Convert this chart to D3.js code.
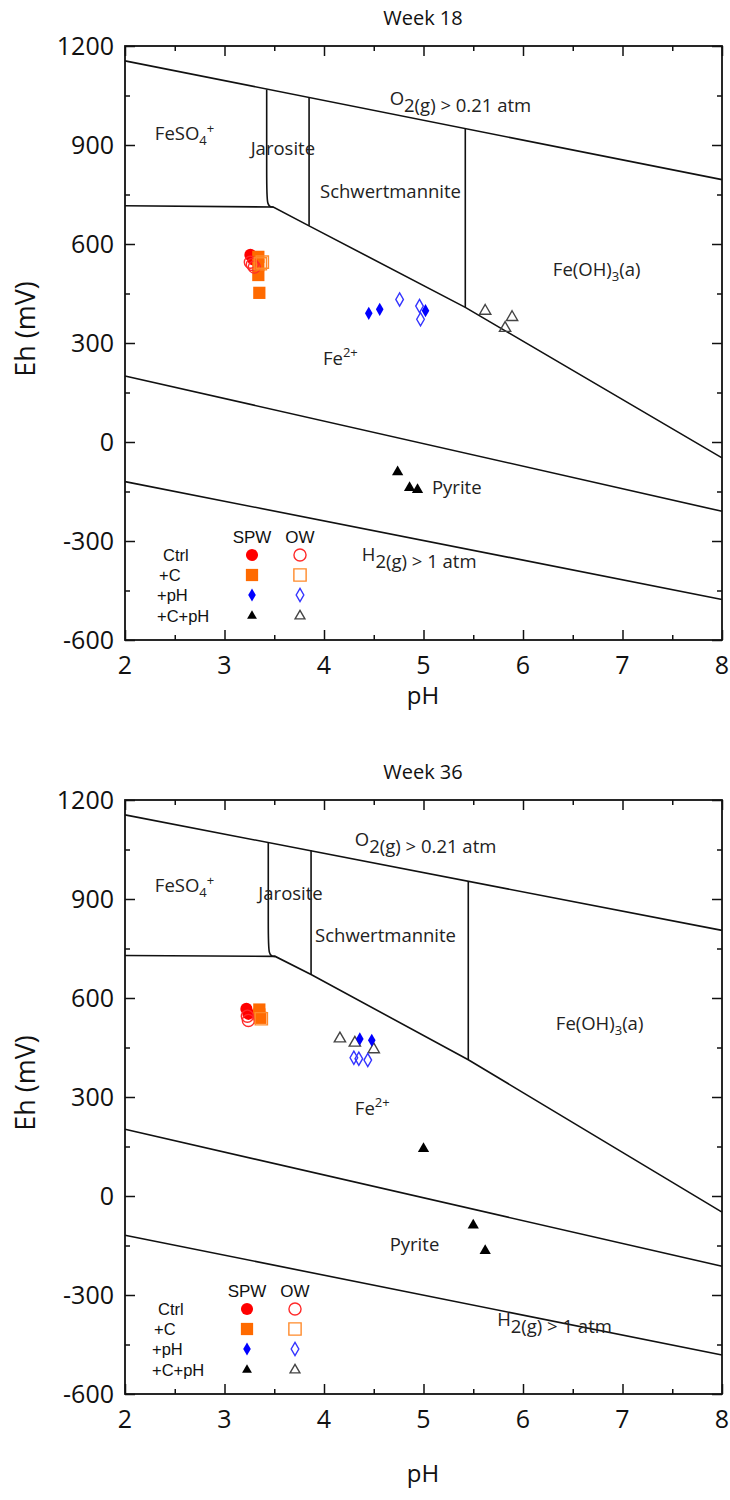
<!DOCTYPE html>
<html><head><meta charset="utf-8">
<script src="https://cdn.jsdelivr.net/npm/d3@7"></script>
<style>body{margin:0;background:#fff} svg{display:block}</style>
</head><body>
<script>
// ---------- axis ticks ----------
const phTicks = [2, 3, 4, 5, 6, 7, 8];
const ehTicks = [-600, -300, 0, 300, 600, 900, 1200];
const legendRows = ["Ctrl", "+C", "+pH", "+C+pH"];
const legendCols = ["SPW", "OW"];
const chartTitles = ["Week 18", "Week 36"];

// ---------- Week 18 data [pH, Eh mV] ----------
const w18_spw_ctrl = [[3.26, 567], [3.29, 553]];
const w18_ow_ctrl  = [[3.26, 545], [3.28, 538], [3.30, 530]];
const w18_spw_c    = [[3.34, 561], [3.34, 536], [3.34, 506], [3.35, 452]];
const w18_ow_c     = [[3.38, 545], [3.36, 540]];
const w18_spw_ph   = [[4.45, 390], [4.56, 402], [5.02, 398]];
const w18_ow_ph    = [[4.76, 432], [4.96, 412], [4.97, 372]];
const w18_spw_cph  = [[4.74, -91], [4.86, -139], [4.94, -145]];
const w18_ow_cph   = [[5.62, 397], [5.89, 378], [5.82, 345]];

// ---------- Week 36 data ----------
const w36_spw_ctrl = [[3.22, 567], [3.24, 552]];
const w36_ow_ctrl  = [[3.23, 545], [3.24, 532]];
const w36_spw_c    = [[3.35, 565], [3.35, 550], [3.36, 540]];
const w36_ow_c     = [[3.37, 537]];
const w36_spw_ph   = [[4.36, 476], [4.48, 472]];
const w36_ow_ph    = [[4.30, 419], [4.35, 416], [4.44, 412]];
const w36_spw_cph  = [[5.00, 143], [5.50, -89], [5.62, -166]];
const w36_ow_cph   = [[4.16, 477], [4.31, 464], [4.50, 444]];

// ---------- stability boundaries, Week 18 ----------
const w18_o2     = [[2, 1155], [8, 795]];
const w18_h2     = [[2, -120], [8, -477]];
const w18_pyrite = [[2, 200], [8, -210]];
const w18_fe2    = [[2, 716], [3.49, 712], [3.85, 655], [5.42, 408], [8, -48]];
const w18_jaro   = [[3.424, 1068], [3.424, 790], [3.424, 712], [3.49, 712]];
const w18_schw   = [[3.85, 1043], [3.85, 655]];
const w18_feoh   = [[5.42, 950], [5.42, 408]];

// ---------- stability boundaries, Week 36 ----------
const w36_o2     = [[2, 1155], [8, 805]];
const w36_h2     = [[2, -119], [8, -482]];
const w36_pyrite = [[2, 202], [8, -213]];
const w36_fe2    = [[2, 729], [3.51, 726], [3.87, 671], [5.45, 413], [8, -49]];
const w36_jaro   = [[3.44, 1071], [3.44, 800], [3.44, 726], [3.51, 726]];
const w36_schw   = [[3.87, 1047], [3.87, 671]];
const w36_feoh   = [[5.45, 954], [5.45, 413]];

// ---------- region label anchors [pH, Eh] ----------
const w18_labelPos = {o2:[4.66,1000], feso4:[2.30,915], jaro:[3.263,870], schw:[3.96,739],
  feoh:[6.30,503], fe2:[3.99,233], pyrite:[5.085,-158], h2:[4.38,-382]};
const w36_labelPos = {o2:[4.31,1040], feso4:[2.30,922], jaro:[3.34,897], schw:[3.91,771],
  feoh:[6.33,504], fe2:[4.31,244], pyrite:[4.66,-167], h2:[5.74,-415]};

// ---------- styles ----------
const treatStyle = {
  "Ctrl":  {shape: d3.symbolCircle,  size: 115, fill: "#ff0000", open: "#ff2a2a"},
  "+C":    {shape: d3.symbolSquare,  size: 150, fill: "#ff6a00", open: "#ff8a2a"},
  "+pH":   {shape: d3.symbolDiamond, size: 50,  fill: "#0000ff", open: "#3535ff"},
  "+C+pH": {shape: d3.symbolTriangle,size: 55,  fill: "#000000", open: "#444444"}
};

const W = 730, H = 1500;
const svg = d3.select("body").append("svg").attr("width", W).attr("height", H)
  .style("font-family", "'Open Sans', sans-serif");

function drawChart(cfg) {
  const left = 125, right = 722, top = cfg.top, bottom = cfg.top + 594;
  const x = d3.scaleLinear().domain([2, 8]).range([left, right]);
  const y = d3.scaleLinear().domain([-600, 1200]).range([bottom, top]);
  const g = svg.append("g");

  // title
  g.append("text").attr("x", 423).attr("y", top - 21).attr("text-anchor", "middle")
    .attr("font-size", 20).attr("fill", "#111").text(cfg.title);

  // boundaries
  const line = d3.line().x(d => x(d[0])).y(d => y(d[1]));
  const lineB = d3.line().x(d => x(d[0])).y(d => y(d[1])).curve(d3.curveBasis);
  [cfg.o2, cfg.h2, cfg.pyrite, cfg.fe2, cfg.schw, cfg.feoh].forEach(b =>
    g.append("path").attr("d", line(b)).attr("fill", "none").attr("stroke", "#111").attr("stroke-width", 1.6));
  g.append("path").attr("d", lineB(cfg.jaro)).attr("fill", "none").attr("stroke", "#111").attr("stroke-width", 1.6);

  // frame
  g.append("rect").attr("x", left).attr("y", top).attr("width", right - left).attr("height", bottom - top)
    .attr("fill", "none").attr("stroke", "#111").attr("stroke-width", 1.8);

  // axes (inside ticks)
  const minorX = d3.range(2.5, 8, 1);
  const minorY = d3.range(-450, 1200, 300);
  const axB = d3.axisBottom(x).tickValues(phTicks).tickSizeInner(-10).tickSizeOuter(0).tickFormat("");
  const axT = d3.axisTop(x).tickValues(phTicks).tickSizeInner(-10).tickSizeOuter(0).tickFormat("");
  const axL = d3.axisLeft(y).tickValues(ehTicks).tickSizeInner(-10).tickSizeOuter(0).tickFormat("");
  const axR = d3.axisRight(y).tickValues(ehTicks).tickSizeInner(-10).tickSizeOuter(0).tickFormat("");
  const mB = d3.axisBottom(x).tickValues(minorX).tickSizeInner(-5).tickSizeOuter(0).tickFormat("");
  const mT = d3.axisTop(x).tickValues(minorX).tickSizeInner(-5).tickSizeOuter(0).tickFormat("");
  const mL = d3.axisLeft(y).tickValues(minorY).tickSizeInner(-5).tickSizeOuter(0).tickFormat("");
  const mR = d3.axisRight(y).tickValues(minorY).tickSizeInner(-5).tickSizeOuter(0).tickFormat("");
  [[axB, bottom, 0], [axT, top, 0], [axL, 0, left], [axR, 0, right],
   [mB, bottom, 0], [mT, top, 0], [mL, 0, left], [mR, 0, right]].forEach(([a, ty, tx]) => {
    const ag = g.append("g").attr("transform", `translate(${tx},${ty})`).call(a);
    ag.select(".domain").remove();
    ag.selectAll("line").attr("stroke", "#111").attr("stroke-width", 1.5);
  });

  // tick labels
  g.selectAll(null).data(phTicks).enter().append("text")
    .attr("x", d => x(d)).attr("y", bottom + 34).attr("text-anchor", "middle")
    .attr("font-size", 25).attr("fill", "#111").text(d => d);
  g.selectAll(null).data(ehTicks).enter().append("text")
    .attr("x", left - 11).attr("y", d => y(d) + 9).attr("text-anchor", "end")
    .attr("font-size", 25).attr("fill", "#111").text(d => d);

  // axis labels
  g.append("text").attr("x", 423).attr("y", bottom + cfg.xlabOff).attr("text-anchor", "middle")
    .attr("font-size", 24).attr("fill", "#111").text("pH");
  g.append("text").attr("transform", `translate(35,${(top + bottom) / 2 - 14}) rotate(-90)`)
    .attr("text-anchor", "middle").attr("font-size", 27).attr("fill", "#111").text("Eh (mV)");

  // region labels
  const lp = cfg.labels, fs = 18.5, col = "#222";
  const T = (p) => g.append("text").attr("x", x(p[0])).attr("y", y(p[1])).attr("font-size", fs).attr("fill", col);
  let t = T(lp.o2); t.append("tspan").attr("dy", -7).text("O");
  t.append("tspan").attr("dy", 7).text("2(g) > 0.21 atm");
  t = T(lp.feso4); t.append("tspan").text("FeSO");
  t.append("tspan").attr("font-size", 13).attr("dy", 5).text("4");
  t.append("tspan").attr("font-size", 13).attr("dy", -12).text("+");
  T(lp.jaro).text("Jarosite");
  T(lp.schw).text("Schwertmannite");
  t = T(lp.feoh); t.append("tspan").text("Fe(OH)");
  t.append("tspan").attr("font-size", 13).attr("dy", 5).text("3");
  t.append("tspan").attr("dy", -5).text("(a)");
  t = T(lp.fe2); t.append("tspan").text("Fe");
  t.append("tspan").attr("font-size", 13).attr("dy", -8).text("2+");
  T(lp.pyrite).text("Pyrite");
  t = T(lp.h2); t.append("tspan").attr("dy", -7).text("H");
  t.append("tspan").attr("dy", 7).text("2(g) > 1 atm");

  // data points
  cfg.series.forEach(s => {
    const st = treatStyle[s.treat];
    const sym = d3.symbol().type(st.shape).size(st.size);
    g.selectAll(null).data(s.data).enter().append("path")
      .attr("d", sym)
      .attr("transform", d => `translate(${x(d[0])},${y(d[1])})`)
      .attr("fill", s.water === "SPW" ? st.fill : "none")
      .attr("stroke", s.water === "SPW" ? "none" : st.open)
      .attr("stroke-width", 1.4);
  });

  // legend
  const lx = cfg.legendX, ly = top;
  const colX = [lx + 252, lx + 300];
  const rowY = [509, 529, 549, 570].map(v => ly + v);
  const rowTX = [163, 159, 157, 157].map(v => v + lx);
  legendCols.forEach((c, i) => g.append("text").attr("x", colX[i]).attr("y", ly + 497)
    .attr("text-anchor", "middle").attr("font-family", "'Liberation Sans', Arial, sans-serif")
    .attr("font-size", 17).attr("fill", "#111").text(c));
  legendRows.forEach((r, j) => {
    g.append("text").attr("x", rowTX[j]).attr("y", rowY[j] + 6)
      .attr("font-family", "'Liberation Sans', Arial, sans-serif").attr("font-size", 16.5)
      .attr("fill", "#111").text(r);
    const st = treatStyle[r];
    legendCols.forEach((c, i) => {
      g.append("path").attr("d", d3.symbol().type(st.shape).size(r === "+C+pH" ? 42 : st.size)())
        .attr("transform", `translate(${colX[i]},${rowY[j]})`)
        .attr("fill", c === "SPW" ? st.fill : "none")
        .attr("stroke", c === "SPW" ? "none" : st.open).attr("stroke-width", 1.4);
    });
  });
}

drawChart({
  top: 46, title: chartTitles[0], legendX: 0, xlabOff: 64,
  o2: w18_o2, h2: w18_h2, pyrite: w18_pyrite, fe2: w18_fe2, jaro: w18_jaro, schw: w18_schw, feoh: w18_feoh,
  labels: w18_labelPos,
  series: [
    {treat: "Ctrl", water: "SPW", data: w18_spw_ctrl}, {treat: "+C", water: "SPW", data: w18_spw_c},
    {treat: "+pH", water: "SPW", data: w18_spw_ph}, {treat: "+C+pH", water: "SPW", data: w18_spw_cph},
    {treat: "Ctrl", water: "OW", data: w18_ow_ctrl}, {treat: "+C", water: "OW", data: w18_ow_c},
    {treat: "+pH", water: "OW", data: w18_ow_ph}, {treat: "+C+pH", water: "OW", data: w18_ow_cph}
  ]
});
drawChart({
  top: 800, title: chartTitles[1], legendX: -5, xlabOff: 88,
  o2: w36_o2, h2: w36_h2, pyrite: w36_pyrite, fe2: w36_fe2, jaro: w36_jaro, schw: w36_schw, feoh: w36_feoh,
  labels: w36_labelPos,
  series: [
    {treat: "+C+pH", water: "OW", data: w36_ow_cph},
    {treat: "Ctrl", water: "SPW", data: w36_spw_ctrl}, {treat: "+C", water: "SPW", data: w36_spw_c},
    {treat: "+pH", water: "SPW", data: w36_spw_ph}, {treat: "+C+pH", water: "SPW", data: w36_spw_cph},
    {treat: "Ctrl", water: "OW", data: w36_ow_ctrl}, {treat: "+C", water: "OW", data: w36_ow_c},
    {treat: "+pH", water: "OW", data: w36_ow_ph}
  ]
});
</script>
</body></html>
